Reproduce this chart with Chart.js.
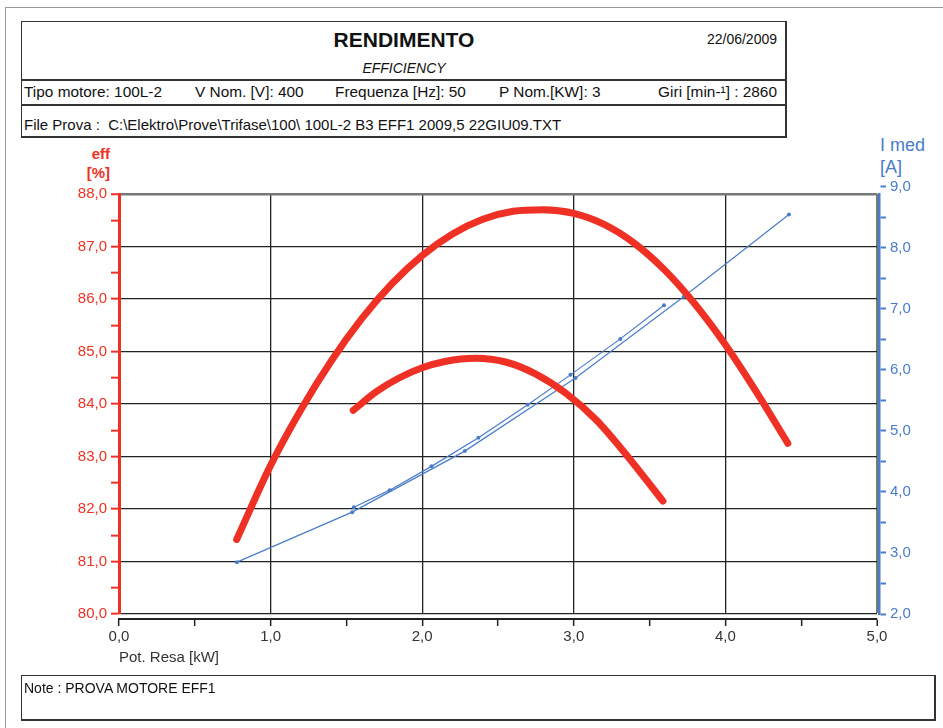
<!DOCTYPE html>
<html>
<head>
<meta charset="utf-8">
<script src="https://cdn.jsdelivr.net/npm/chart.js@4/dist/chart.umd.min.js"></script>
<style>
  body { margin: 0; background: #fff; font-family: "Liberation Sans", Arial, sans-serif; }
  #page { position: relative; width: 943px; height: 728px; overflow: hidden; }
  #chart { position: absolute; left: 0; top: 0; }
  .abs { position: absolute; white-space: nowrap; }
  .box { position: absolute; border: 1.5px solid #333; border-right-width: 2px; border-bottom-width: 2px; box-sizing: border-box; }
  .hl { position: absolute; height: 2px; background: #333; }
</style>
</head>
<body>
<div id="page">
  <div class="abs" style="left:5px;top:7px;width:940px;height:1px;background:#999"></div>
  <div class="abs" style="left:5px;top:7px;width:1px;height:721px;background:#999"></div>

  <div class="box" style="left:21px;top:21px;width:766px;height:117px"></div>
  <div class="hl" style="left:21px;top:79px;width:766px"></div>
  <div class="hl" style="left:21px;top:104px;width:766px"></div>
  <div class="abs" style="left:0;width:808px;top:28px;text-align:center;font-weight:bold;font-size:21px;color:#111">RENDIMENTO</div>
  <div class="abs" style="right:166px;top:31px;font-size:14px;color:#111">22/06/2009</div>
  <div class="abs" style="left:0;width:808px;top:60px;text-align:center;font-style:italic;font-size:14px;color:#111">EFFICIENCY</div>
  <div class="abs" style="left:24px;top:83px;font-size:15.4px;color:#111">Tipo motore: 100L-2</div>
  <div class="abs" style="left:195px;top:83px;font-size:15.4px;color:#111">V Nom. [V]: 400</div>
  <div class="abs" style="left:335px;top:83px;font-size:15.4px;color:#111">Frequenza [Hz]: 50</div>
  <div class="abs" style="left:499px;top:83px;font-size:15.4px;color:#111">P Nom.[KW]: 3</div>
  <div class="abs" style="right:166px;top:83px;font-size:15.4px;color:#111">Giri [min-¹] : 2860</div>
  <div class="abs" style="left:24px;top:116px;font-size:15px;color:#111">File Prova :&nbsp; C:\Elektro\Prove\Trifase\100\ 100L-2 B3 EFF1 2009,5 22GIU09.TXT</div>

  <div class="abs" style="right:833px;top:144px;font-size:15px;font-weight:bold;color:#ee3124;text-align:right;line-height:19px">eff<br>[%]</div>
  <div class="abs" style="left:880px;top:134px;font-size:18px;color:#4a7cc9;line-height:22px">I med<br>[A]</div>

  <canvas id="chart" width="943" height="728"></canvas>

  <div class="box" style="left:21px;top:675px;width:915px;height:46px"></div>
  <div class="abs" style="left:24px;top:680px;font-size:14px;color:#111">Note : PROVA MOTORE EFF1</div>
</div>

<script>
// efficiency curves (eff %) vs output power (kW)
const potLong = [0.776, 1.0, 1.2, 1.4, 1.6, 1.8, 2.0, 2.2, 2.4, 2.6, 2.8, 3.0, 3.2, 3.4, 3.6, 3.8, 4.0, 4.2, 4.412];
const effLong = [81.42, 82.83, 83.89, 84.82, 85.62, 86.29, 86.83, 87.24, 87.52, 87.67, 87.7, 87.63, 87.42, 87.06,
                 86.55, 85.9, 85.13, 84.25, 83.25];
const potShort = [1.545, 1.7, 1.85, 2.0, 2.15, 2.35, 2.55, 2.75, 2.95, 3.15, 3.35, 3.588];
const effShort = [83.88, 84.24, 84.5, 84.69, 84.81, 84.87, 84.8, 84.57, 84.2, 83.69, 83.02, 82.15];

// measured current (A) vs output power (kW)
const potCurLong = [0.778, 1.538, 2.281, 3.011, 3.725, 4.419];
const curLong = [2.85, 3.67, 4.67, 5.87, 7.2, 8.55];
const potCurShort = [1.549, 1.786, 2.061, 2.371, 2.696, 2.978, 3.307, 3.595];
const curShort = [3.75, 4.03, 4.42, 4.89, 5.43, 5.92, 6.51, 7.06];

const xTicks = [0, 0.5, 1, 1.5, 2, 2.5, 3, 3.5, 4, 4.5, 5];
const effTicks = [80, 80.5, 81, 81.5, 82, 82.5, 83, 83.5, 84, 84.5, 85, 85.5, 86, 86.5, 87, 87.5, 88];
const curTicks = [2, 2.5, 3, 3.5, 4, 4.5, 5, 5.5, 6, 6.5, 7, 7.5, 8, 8.5, 9];

const RED = '#ee3124';
const BLUE = '#4a7cc9';
const FONT = '"Liberation Sans", Arial, sans-serif';

const pts = (xs, ys) => xs.map((x, i) => ({ x: x, y: ys[i] }));
const lbl = v => (v % 1 === 0 ? v.toFixed(1).replace('.', ',') : '');
const isInt = v => Math.abs(v % 1) < 1e-9;

new Chart(document.getElementById('chart'), {
  type: 'line',
  data: {
    datasets: [
      { data: pts(potLong, effLong), xAxisID: 'x', yAxisID: 'y', borderColor: RED, borderWidth: 7,
        borderCapStyle: 'round', pointRadius: 0, cubicInterpolationMode: 'monotone' },
      { data: pts(potShort, effShort), xAxisID: 'x', yAxisID: 'y', borderColor: RED, borderWidth: 7,
        borderCapStyle: 'round', pointRadius: 0, cubicInterpolationMode: 'monotone' },
      { data: pts(potCurLong, curLong), xAxisID: 'x', yAxisID: 'y2', borderColor: BLUE, borderWidth: 1.2,
        pointRadius: 2, pointBackgroundColor: BLUE, pointBorderWidth: 0, tension: 0 },
      { data: pts(potCurShort, curShort), xAxisID: 'x', yAxisID: 'y2', borderColor: BLUE, borderWidth: 1.2,
        pointRadius: 2, pointBackgroundColor: BLUE, pointBorderWidth: 0, tension: 0 }
    ]
  },
  options: {
    responsive: false,
    animation: false,
    devicePixelRatio: 1,
    layout: { padding: { top: 194, bottom: 57, left: 0, right: 0 } },
    plugins: { legend: { display: false }, tooltip: { enabled: false } },
    scales: {
      xpad: {
        type: 'linear', position: 'bottom', weight: 0, min: 0, max: 1,
        ticks: { display: false }, grid: { display: false }, border: { display: false },
        afterFit: s => { s.height = 5; }
      },
      x: {
        type: 'linear', position: 'bottom', weight: 10, min: 0, max: 5,
        afterBuildTicks: s => { s.ticks = xTicks.map(v => ({ value: v })); },
        ticks: { autoSkip: false, maxRotation: 0, callback: lbl, color: '#333', padding: 2,
                 font: { family: FONT, size: 15 } },
        grid: {
          color: c => {
            const v = c.tick ? c.tick.value : 0;
            if (v === 0) return 'rgba(0,0,0,0)';
            if (v === 5) return '#777';
            return isInt(v) ? '#222' : 'rgba(0,0,0,0)';
          },
          lineWidth: c => (c.tick && c.tick.value === 5 ? 2.5 : 1.3),
          tickColor: '#222', tickLength: 7, tickWidth: 1.5
        },
        border: { color: '#222', width: 2 },
        title: { display: true, text: 'Pot. Resa [kW]', align: 'start', color: '#333',
                 font: { family: FONT, size: 15 }, padding: { top: 0, bottom: 4 } },
        afterFit: s => { s.height = 52; }
      },
      y: {
        type: 'linear', position: 'left', min: 80, max: 88,
        afterBuildTicks: s => { s.ticks = effTicks.map(v => ({ value: v })); },
        ticks: { autoSkip: false, callback: lbl, color: RED, padding: 4, font: { family: FONT, size: 15 } },
        grid: {
          color: c => {
            const v = c.tick ? c.tick.value : 0;
            if (v === 88) return '#777';
            return isInt(v) ? '#222' : 'rgba(0,0,0,0)';
          },
          lineWidth: c => (c.tick && c.tick.value === 88 ? 2.5 : 1.3),
          tickColor: RED, tickLength: 8, tickWidth: 2
        },
        border: { color: RED, width: 3 },
        afterFit: s => { s.width = 119; }
      },
      ypad: {
        type: 'linear', position: 'right', weight: 0, min: 0, max: 1,
        ticks: { display: false }, grid: { display: false }, border: { display: false },
        afterFit: s => { s.width = 2; }
      },
      y2: {
        type: 'linear', position: 'right', weight: 10, min: 2, max: 8.885,
        afterBuildTicks: s => { s.ticks = curTicks.map(v => ({ value: v })); },
        ticks: { autoSkip: false, callback: lbl, color: BLUE, padding: 4, font: { family: FONT, size: 15 } },
        grid: { drawOnChartArea: false, tickColor: BLUE, tickLength: 7, tickWidth: 2 },
        border: { color: BLUE, width: 2.5 },
        afterFit: s => { s.width = 64; }
      }
    }
  }
});
</script>
</body>
</html>
